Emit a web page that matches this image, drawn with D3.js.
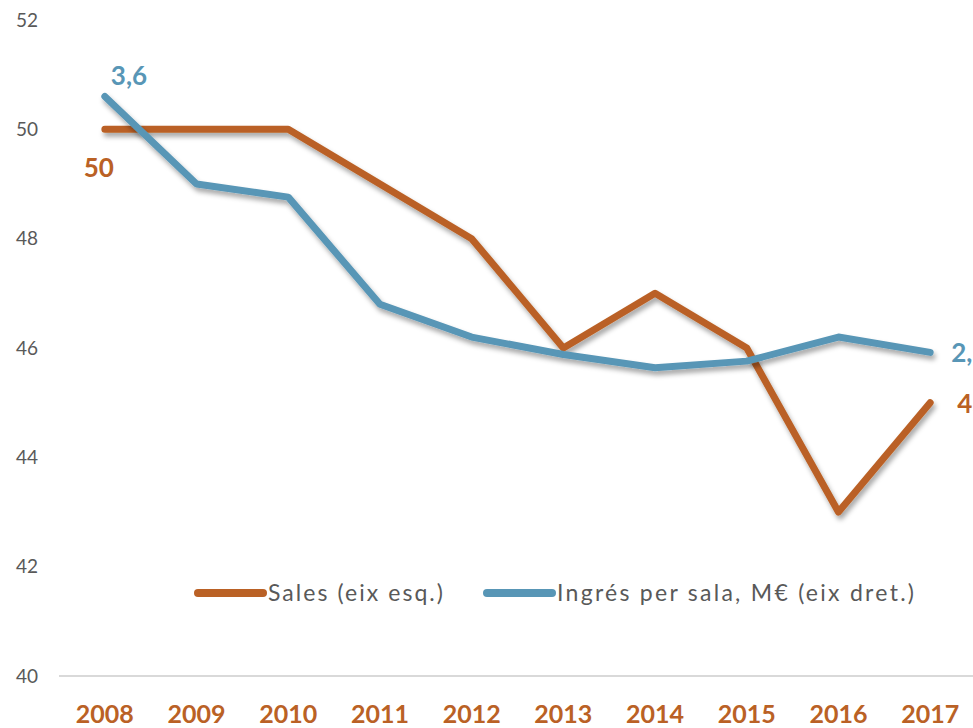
<!DOCTYPE html>
<html><head><meta charset="utf-8">
<script src="https://cdn.jsdelivr.net/npm/d3@7/dist/d3.min.js"></script>
<style>body{margin:0;background:#fff}svg{display:block}</style>
</head><body>
<svg id="c" width="973" height="728"></svg>
<script>
const years = ["2008","2009","2010","2011","2012","2013","2014","2015","2016","2017"];
const sales = [50,50,50,49,48,46,47,46,43,45];
const ingres = [3.65,3.25,3.19,2.70,2.55,2.47,2.41,2.44,2.55,2.48];
const leftTicks = [40,42,44,46,48,50,52];
const legendNames = ["Sales (eix esq.)","Ingrés per sala, M€ (eix dret.)"];

const orange = "#BA6125", blue = "#5896B6", grey = "#595959";
const font = "Lato, 'Open Sans', sans-serif";
const svg = d3.select("#c");

const defs = svg.append("defs");
const f = defs.append("filter").attr("id","sh").attr("x","-10%").attr("y","-10%").attr("width","130%").attr("height","130%");
f.append("feDropShadow").attr("dx",2).attr("dy",4).attr("stdDeviation",2.5).attr("flood-color","#000").attr("flood-opacity",0.35);

const x = d3.scaleBand().domain(years).range([59,976]);
const xc = d => x(d) + x.bandwidth()/2;
const yL = d3.scaleLinear().domain([40,52]).range([676,20]);
const yR = d3.scaleLinear().domain([1,4]).range([676,20]);

// baseline
svg.append("line").attr("x1",59).attr("x2",973).attr("y1",yL(40)).attr("y2",yL(40))
  .attr("stroke","#d9d9d9").attr("stroke-width",2);

// left axis labels
const ay = d3.axisLeft(yL).tickValues(leftTicks).tickSize(0).tickPadding(0);
const gy = svg.append("g").attr("transform","translate(38,0)").call(ay);
gy.select(".domain").remove();
gy.selectAll("text").attr("font-family",font).attr("font-size",19).attr("fill",grey);

// x axis labels
const ax = d3.axisBottom(x).tickSize(0).tickPadding(0);
const gx = svg.append("g").attr("transform","translate(0,705)").call(ax);
gx.select(".domain").remove();
gx.selectAll("text").attr("font-family",font).attr("font-size",25).attr("font-weight","bold").attr("fill",orange);

// lines
const lineL = d3.line().x((d,i)=>xc(years[i])).y(d=>yL(d));
const lineR = d3.line().x((d,i)=>xc(years[i])).y(d=>yR(d));
svg.append("path").datum(sales).attr("d",lineL).attr("fill","none").attr("stroke",orange)
  .attr("stroke-width",7).attr("stroke-linejoin","round").attr("stroke-linecap","round").attr("filter","url(#sh)");
svg.append("path").datum(ingres).attr("d",lineR).attr("fill","none").attr("stroke",blue)
  .attr("stroke-width",7).attr("stroke-linejoin","round").attr("stroke-linecap","round").attr("filter","url(#sh)");

// data labels
const fmt = v => d3.format(".1f")(v).replace(".",",");
const lab = (t,xx,yy,c,anchor) => svg.append("text").attr("x",xx).attr("y",yy).attr("fill",c)
  .attr("font-family",font).attr("font-size",26).attr("font-weight","bold").attr("text-anchor",anchor).text(t);
lab(fmt(ingres[0]).replace(/,0$/,""), xc(years[0])+6, yR(ingres[0])-12, blue, "start");
lab(String(sales[0]), xc(years[0])+9, yL(sales[0])+48, orange, "end");
lab(fmt(ingres[9]), xc(years[9])+21, yR(ingres[9])+10, blue, "start");
lab(String(sales[9]), xc(years[9])+27, yL(sales[9])+10, orange, "start");

// legend
const lg = svg.append("g").attr("font-family",font).attr("font-size",23).attr("fill",grey);
const items = [{n:legendNames[0],c:orange,x:195,w:175},{n:legendNames[1],c:blue,x:484,w:357}];
items.forEach(it=>{
  lg.append("line").attr("x1",it.x+3).attr("x2",it.x+68).attr("y1",593).attr("y2",593)
    .attr("stroke",it.c).attr("stroke-width",8).attr("stroke-linecap","round");
  lg.append("text").attr("x",it.x+73).attr("y",601).attr("textLength",it.w).attr("lengthAdjust","spacing").text(it.n);
});
</script>
</body></html>
